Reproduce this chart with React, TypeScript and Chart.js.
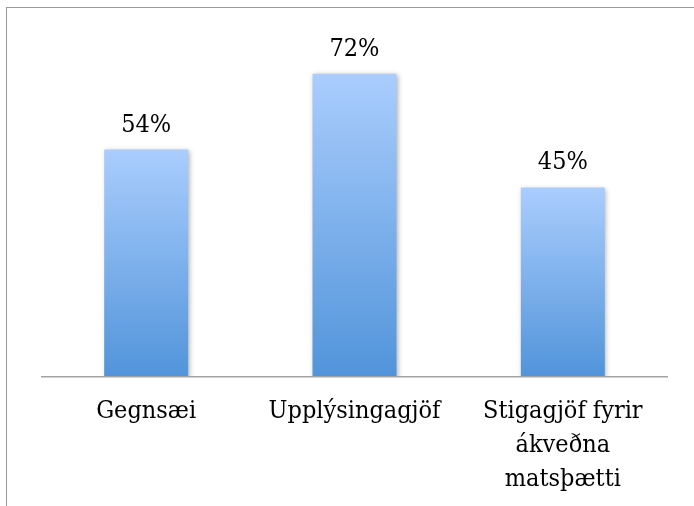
import React, { useEffect, useRef } from "react";
import { Chart, registerables } from "chart.js";

Chart.register(...registerables);

const categories: (string | string[])[] = [
  "Gegnsæi",
  "Upplýsingagjöf",
  ["Stigagjöf fyrir", "ákveðna", "matsþætti"],
];
const values: number[] = [54, 72, 45];
const yMin = 0;
const yMax = 80;

const FONT = '"DejaVu Serif Condensed", "DejaVu Serif", serif';
const FONT_SIZE = 25;

const shadowPlugin = {
  id: "barShadow",
  beforeDatasetsDraw(chart: any) {
    const ctx = chart.ctx;
    ctx.save();
    ctx.shadowColor = "rgba(0,0,0,0.32)";
    ctx.shadowBlur = 5;
    ctx.shadowOffsetX = 1.5;
    ctx.shadowOffsetY = 1.5;
  },
  afterDatasetsDraw(chart: any) {
    chart.ctx.restore();
  },
};

const valueLabelPlugin = {
  id: "valueLabels",
  afterDatasetsDraw(chart: any) {
    const ctx = chart.ctx;
    const meta = chart.getDatasetMeta(0);
    ctx.save();
    ctx.font = `${FONT_SIZE}px ${FONT}`;
    ctx.fillStyle = "#000";
    ctx.textAlign = "center";
    ctx.textBaseline = "alphabetic";
    meta.data.forEach((bar: any, i: number) => {
      ctx.fillText(`${values[i]}%`, bar.x, bar.y - 18);
    });
    ctx.restore();
  },
};

export default function App() {
  const canvasRef = useRef<HTMLCanvasElement | null>(null);

  useEffect(() => {
    const canvas = canvasRef.current;
    if (!canvas) return;
    const chart = new Chart(canvas, {
      type: "bar",
      data: {
        labels: categories as any,
        datasets: [
          {
            data: values,
            categoryPercentage: 1,
            barPercentage: 0.403,
            borderWidth: 0,
            backgroundColor: (context: any) => {
              const c = context.chart;
              const y = c.scales && c.scales.y;
              if (!c.chartArea || !y || context.raw == null) return "#7FAEEB";
              const top = y.getPixelForValue(context.raw);
              const bottom = y.getPixelForValue(0);
              if (!isFinite(top) || !isFinite(bottom) || top === bottom) return "#7FAEEB";
              const g = c.ctx.createLinearGradient(0, top, 0, bottom);
              g.addColorStop(0, "#AACDFD");
              g.addColorStop(1, "#5194DA");
              return g;
            },
          },
        ],
      },
      options: {
        animation: false,
        responsive: false,
        maintainAspectRatio: false,
        layout: { padding: { left: 42, right: 27, top: 40, bottom: 0 } },
        plugins: {
          legend: { display: false },
          tooltip: { enabled: false },
          title: { display: false },
        },
        scales: {
          x: {
            grid: { display: false, drawTicks: false },
            border: { display: true, color: "#A3A3A3", width: 1.5, z: 1 },
            ticks: {
              color: "#000",
              font: { family: FONT, size: FONT_SIZE, lineHeight: 1.35 },
              padding: 18,
              maxRotation: 0,
              minRotation: 0,
              autoSkip: false,
            },
            afterFit: (scale: any) => {
              scale.height = 129;
            },
          },
          y: {
            display: false,
            min: yMin,
            max: yMax,
          },
        },
      },
      plugins: [shadowPlugin, valueLabelPlugin],
    });
    return () => chart.destroy();
  }, []);

  return (
    <div
      style={{
        position: "fixed",
        left: 0,
        top: 0,
        width: 694,
        height: 506,
        overflow: "hidden",
        background: "#fff",
      }}
    >
      <div
        style={{
          position: "absolute",
          left: 6,
          top: 7,
          width: 700,
          height: 520,
          borderTop: "1px solid #999",
          borderLeft: "1px solid #999",
        }}
      />
      <canvas
        ref={canvasRef}
        width={694}
        height={506}
        style={{ position: "absolute", left: 0, top: 0, width: 694, height: 506 }}
      />
    </div>
  );
}
